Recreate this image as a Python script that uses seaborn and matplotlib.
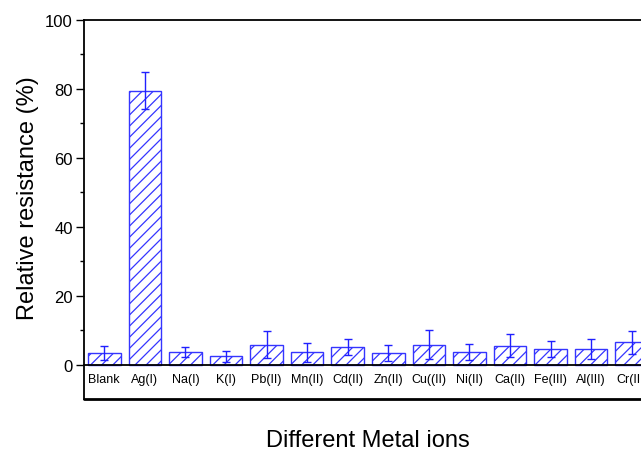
import numpy as np
import pandas as pd
import matplotlib
matplotlib.use("Agg")
import matplotlib.pyplot as plt
import seaborn as sns
from matplotlib.ticker import FixedLocator

ions = ["Blank", "Ag(I)", "Na(I)", "K(I)", "Pb(II)", "Mn(II)", "Cd(II)",
        "Zn(II)", "Cu((II)", "Ni(II)", "Ca(II)", "Fe(III)", "Al(III)", "Cr(III)"]
resistance = [3.4, 79.5, 3.6, 2.4, 5.8, 3.5, 5.1, 3.4, 5.8, 3.7, 5.5, 4.5, 4.5, 6.4]
errors = [2.1, 5.3, 1.5, 1.6, 3.8, 2.7, 2.3, 2.3, 4.1, 2.3, 3.4, 2.4, 2.9, 3.4]

df = pd.DataFrame({"ion": ions, "resistance": resistance})

sns.set_style("ticks")
plt.rcParams["font.family"] = ["Liberation Sans", "DejaVu Sans"]
plt.rcParams["hatch.linewidth"] = 0.9
plt.rcParams["text.color"] = "black"
plt.rcParams["axes.labelcolor"] = "black"
plt.rcParams["xtick.color"] = "black"
plt.rcParams["ytick.color"] = "black"
blue = "#3535ff"

fig = plt.figure(figsize=(6.41, 4.52), dpi=100)
ax = fig.add_axes([84 / 641, 52 / 452, 568 / 641, 379 / 452])

sns.barplot(data=df, x="ion", y="resistance", ax=ax, color="white",
            edgecolor=blue, linewidth=1.0, hatch="///", saturation=1,
            width=0.8, errorbar=None, zorder=2)
ax.errorbar(np.arange(len(ions)), resistance, yerr=errors, fmt="none",
            ecolor="#2020ff", elinewidth=1.0, capsize=3, capthick=1.0, zorder=3)

ax.set_xlim(-0.5, len(ions) - 0.5)
ax.set_ylim(-10, 100)
ax.set_yticks([0, 20, 40, 60, 80, 100])
ax.yaxis.set_minor_locator(FixedLocator([10, 30, 50, 70, 90]))
ax.tick_params(axis="y", which="major", direction="out", length=6, width=1,
               labelsize=12, pad=2)
ax.tick_params(axis="y", which="minor", direction="out", length=3, width=1)
ax.tick_params(axis="x", length=0, labelsize=9, pad=6)

ax.spines["bottom"].set_position(("data", 0))
ax.spines["right"].set_visible(False)
for s in ["left", "top", "bottom"]:
    ax.spines[s].set_linewidth(1.3)
    ax.spines[s].set_color("black")
ax.axhline(-10, color="black", lw=2.0, clip_on=False, zorder=4)

ax.set_ylabel("Relative resistance (%)", fontsize=17)
ax.yaxis.set_label_coords(-0.08, 0.533)
ax.set_xlabel("Different Metal ions", fontsize=17)
ax.xaxis.set_label_coords(0.5, -0.08)

fig.savefig("out.png", dpi=100)
